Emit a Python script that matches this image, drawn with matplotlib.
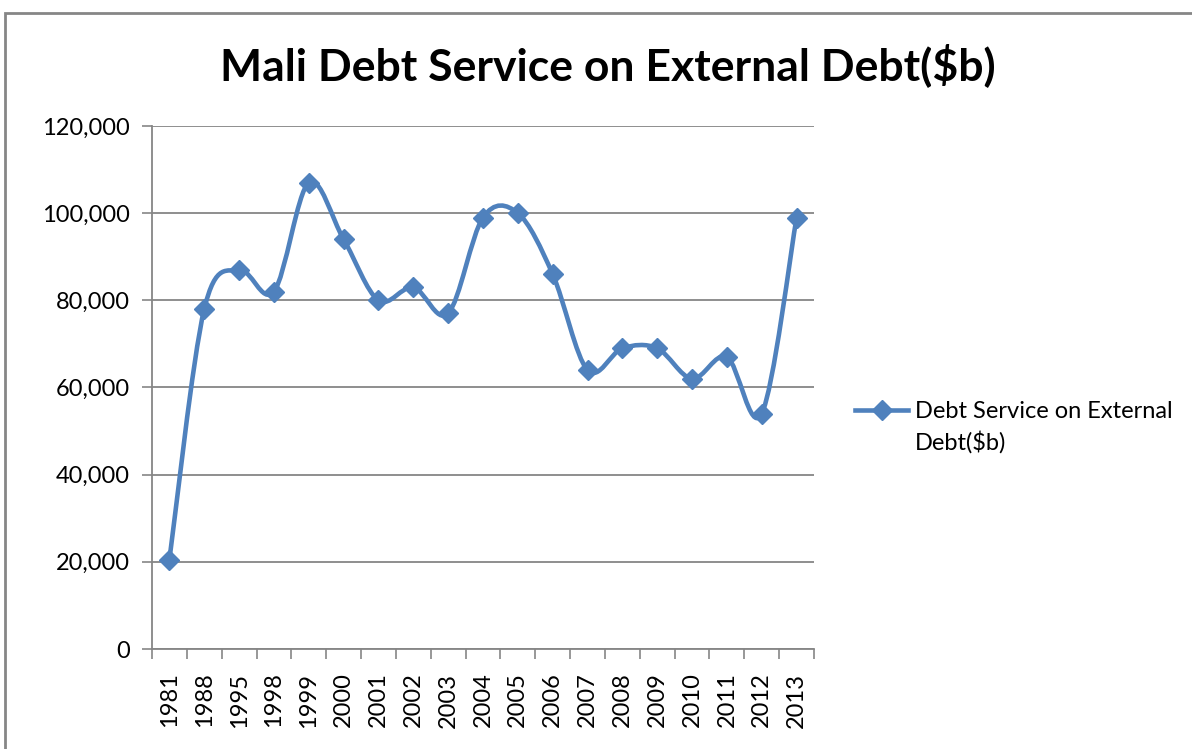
import numpy as np
import matplotlib
matplotlib.use("Agg")
import matplotlib.pyplot as plt
from matplotlib.path import Path
from matplotlib.patches import PathPatch, Rectangle
from matplotlib.lines import Line2D
from matplotlib.ticker import FuncFormatter

plt.rcParams['font.family'] = ['Lato', 'DejaVu Sans']

# Debt service per year
years = ["1981", "1988", "1995", "1998", "1999", "2000", "2001", "2002", "2003", "2004",
         "2005", "2006", "2007", "2008", "2009", "2010", "2011", "2012", "2013"]
debt_service = [20500, 78000, 87000, 82000, 107000, 94000, 80000, 83000, 77000, 99000,
                100000, 86000, 64000, 69000, 69000, 62000, 67000, 54000, 99000]
series_name = "Debt Service on External\nDebt($b)"
title = "Mali Debt Service on External Debt($b)"

blue = "#4F81BD"
gray = "#868686"

fig = plt.figure(figsize=(11.92, 7.49), dpi=100)
ax = fig.add_axes([0.1275, 0.1335, 0.5554, 0.6983])

# outer chart border
fig.patches.append(Rectangle((0.0042, -0.1), 1.2, 1.0826, transform=fig.transFigure,
                             fill=False, edgecolor=gray, linewidth=2))

x = np.arange(len(years), dtype=float)
y = np.array(debt_service, dtype=float)

# smoothed line: cubic bezier segments through every point
pts = np.column_stack([x, y])
verts = [pts[0]]
codes = [Path.MOVETO]
n = len(pts)
for i in range(n - 1):
    p_prev = pts[i - 1] if i > 0 else pts[i]
    p_next2 = pts[i + 2] if i + 2 < n else pts[i + 1]
    c1 = pts[i] + (pts[i + 1] - p_prev) / 6.0
    c2 = pts[i + 1] - (p_next2 - pts[i]) / 6.0
    verts += [c1, c2, pts[i + 1]]
    codes += [Path.CURVE4] * 3
ax.add_patch(PathPatch(Path(verts, codes), fill=False, edgecolor=blue,
                       linewidth=3.3, capstyle='round', joinstyle='round', zorder=3))
ax.plot(x, y, linestyle='none', marker='D', markersize=10.5, color=blue, zorder=4)

ax.set_xlim(-0.5, len(years) - 0.5)
ax.set_ylim(0, 120000)
ax.set_yticks(np.arange(0, 120001, 20000))
ax.yaxis.set_major_formatter(FuncFormatter(lambda v, p: f"{int(v):,}"))
ax.grid(axis='y', color=gray, linewidth=1.3)
ax.set_axisbelow(True)

ax.set_xticks(x)
ax.set_xticklabels(years, rotation=90)
ax.set_xticks(np.arange(-0.5, len(years), 1.0), minor=True)
ax.tick_params(axis='x', which='major', length=0, pad=17, labelsize=17)
ax.tick_params(axis='x', which='minor', length=7, width=1.2, color=gray)
ax.tick_params(axis='y', length=7, width=1.2, color=gray, labelsize=17, pad=9)

for side in ('top', 'right'):
    ax.spines[side].set_visible(False)
ax.spines['left'].set_color(gray)
ax.spines['bottom'].set_color(gray)
ax.spines['left'].set_linewidth(1.3)
ax.spines['bottom'].set_linewidth(1.3)

fig.text(0.51, 0.913, title, ha='center', va='center', fontsize=32, fontweight='bold')

# legend: key sits level with the first line of the label
key_y = 1 - 410 / 749
fig.add_artist(Line2D([855 / 1192, 908 / 1192], [key_y, key_y], transform=fig.transFigure,
                      color=blue, linewidth=3.3))
fig.add_artist(Line2D([881.5 / 1192], [key_y], transform=fig.transFigure,
                      color=blue, marker='D', markersize=10.5, linestyle='none'))
fig.text(915 / 1192, key_y + 0.012, series_name, ha='left', va='top', fontsize=17,
         linespacing=1.45)

fig.savefig("out.png", dpi=100)
